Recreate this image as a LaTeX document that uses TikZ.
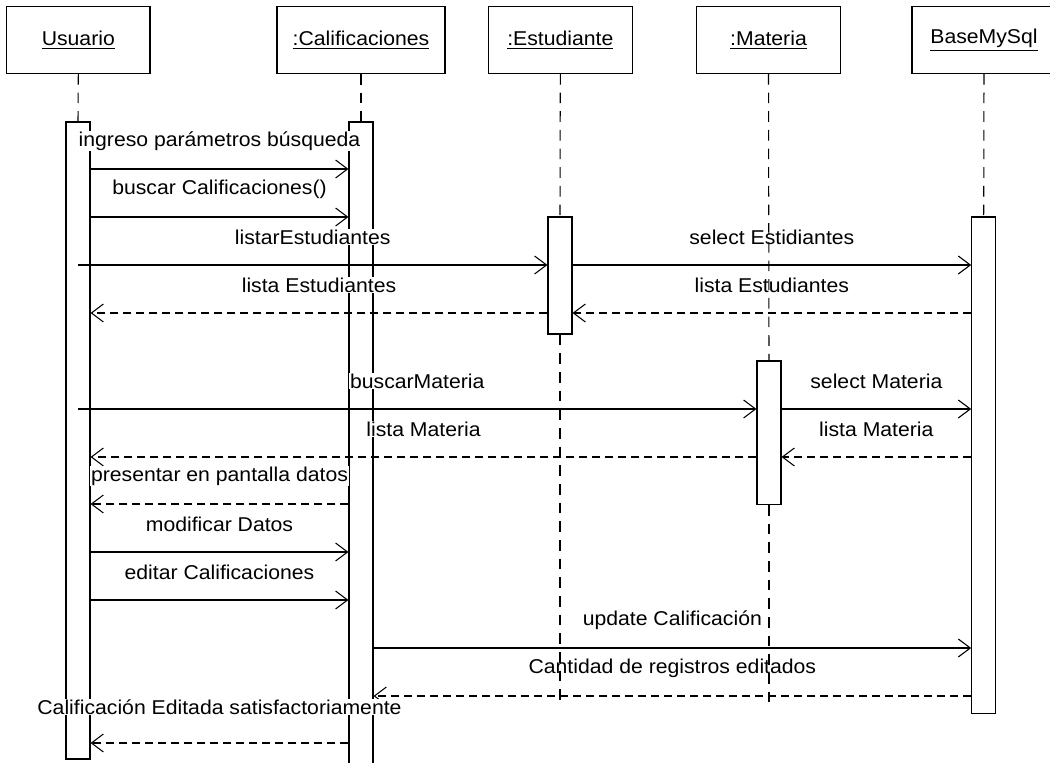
\documentclass[tikz,border=0pt]{standalone}
\usepackage{fontspec}
\setmainfont[FakeStretch=1.06]{Liberation Sans}
\usetikzlibrary{arrows.meta,fit}
\begin{document}
\begin{tikzpicture}[x=0.75pt,y=-0.75pt,
  lw/.style={line width=0.8pt},
  txt/.style={font=\fontsize{15}{18}\selectfont},
  hdr/.style={draw,lw,fill=white,minimum height=50pt,inner sep=0pt,txt},
  act/.style={draw,lw,fill=white,inner sep=0pt},
  life/.style={lw,dash pattern=on 8pt off 6pt},
  msg/.style={lw,-{Straight Barb[length=9pt,width=13.5pt,line width=0.8pt]}},
  ret/.style={msg,dash pattern=on 6pt off 3.75pt},
  lbl/.style={fill=white,inner sep=0.5pt,txt,midway,yshift=21pt}]
\useasboundingbox (0,0) rectangle (1050,763);
\clip (0,0) rectangle (1050,763);
% headers
\node[hdr,minimum width=107.5pt] (hU) at (78.3,40) {\underline{Usuario}};
\node[hdr,minimum width=126pt] (hC) at (361,40) {\underline{:Calificaciones}};
\node[hdr,minimum width=108pt] (hE) at (560.3,40) {\underline{:Estudiante}};
\node[hdr,minimum width=108.5pt] (hM) at (768.5,40) {\underline{:Materia}};
\node[hdr,minimum width=108pt] (hB) at (984,40) {\underline{BaseMySql}};
% activations
\node[act,fit={(66,122)(90,759)}] (aU) {};
\node[act,fit={(349,122)(373,775)}] (aC) {};
\node[act,fit={(548,217)(572,334)}] (aE) {};
\node[act,fit={(757,361)(781,504.5)}] (aM) {};
\node[act,fit={(971.7,217)(995.7,713.3)}] (aB) {};
% rows
\coordinate (r1) at (0,169);
\coordinate (r2) at (0,217);
\coordinate (r3) at (0,265);
\coordinate (r4) at (0,313);
\coordinate (r5) at (0,409);
\coordinate (r6) at (0,457);
\coordinate (r7) at (0,504);
\coordinate (r8) at (0,552);
\coordinate (r9) at (0,600);
\coordinate (r10) at (0,648);
\coordinate (r11) at (0,696);
\coordinate (r12) at (0,743);
\coordinate (endrow) at (0,707);
% messages
\draw[msg] (aU.east |- r1) -- node[lbl]{ingreso parámetros búsqueda} (aC.west |- r1);
\draw[msg] (aU.east |- r2) -- node[lbl]{buscar Calificaciones()} (aC.west |- r2);
\draw[msg] (aU.center |- r3) -- node[lbl]{listarEstudiantes} (aE.west |- r3);
\draw[msg] (aE.east |- r3) -- node[lbl]{select Estidiantes} (aB.west |- r3);
\draw[ret] (aB.west |- r4) -- node[lbl]{lista Estudiantes} (aE.east |- r4);
\draw[ret] (aE.west |- r4) -- node[lbl]{lista Estudiantes} (aU.east |- r4);
\draw[msg] (aU.center |- r5) -- node[lbl]{buscarMateria} (aM.west |- r5);
\draw[msg] (aM.east |- r5) -- node[lbl]{select Materia} (aB.west |- r5);
\draw[ret] (aB.west |- r6) -- node[lbl]{lista Materia} (aM.east |- r6);
\draw[ret] (aM.west |- r6) -- node[lbl]{lista Materia} (aU.east |- r6);
\draw[ret] (aC.west |- r7) -- node[lbl]{presentar en pantalla datos} (aU.east |- r7);
\draw[msg] (aU.east |- r8) -- node[lbl]{modificar Datos} (aC.west |- r8);
\draw[msg] (aU.east |- r9) -- node[lbl]{editar Calificaciones} (aC.west |- r9);
\draw[msg] (aC.east |- r10) -- node[lbl]{update Calificación} (aB.west |- r10);
\draw[ret] (aB.west |- r11) -- node[lbl]{Cantidad de registros editados} (aC.east |- r11);
\draw[ret] (aC.west |- r12) -- node[lbl,yshift=6pt]{Calificación Editada satisfactoriamente} (aU.east |- r12);
% lifelines
\draw[life] (hU.south) -- (aU.north);
\draw[life] (hC.south) -- (aC.north);
\draw[life] (hB.south) -- (aB.north);
\draw[life] (hE.south) -- (aE.north);
\draw[life] (aE.south) -- (aE.south |- endrow);
\draw[life] (hM.south) -- (aM.north);
\draw[life] (aM.south) -- (aM.south |- endrow);
\end{tikzpicture}
\end{document}
